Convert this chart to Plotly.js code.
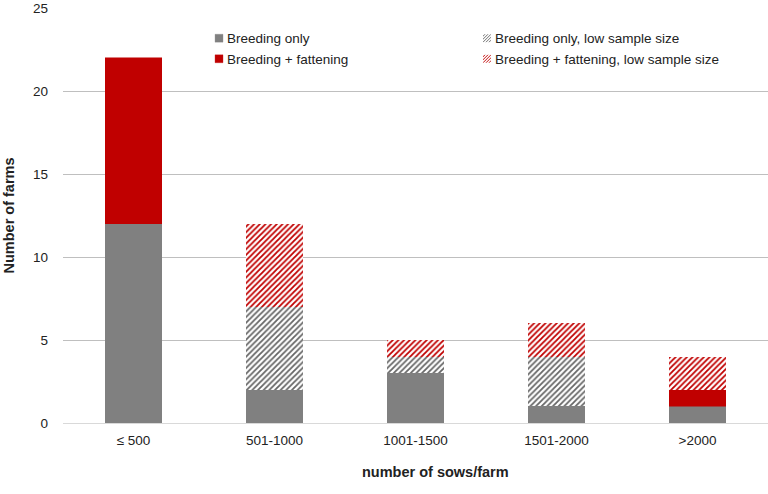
<!DOCTYPE html>
<html>
<head>
<meta charset="utf-8">
<script src="https://cdn.plot.ly/plotly-3.0.1.min.js"></script>
<style>
  html, body { margin: 0; padding: 0; background: #fff; }
  #chart { width: 768px; height: 494px; }
</style>
</head>
<body>
<div id="chart"></div>
<script>
let categories = ['≤ 500', '501-1000', '1001-1500', '1501-2000', '>2000'];

let breedingOnly = [12, 2, 3, 1, 1];
let breedingOnlyLow = [0, 5, 1, 3, 0];
let breedingFattening = [10, 0, 0, 0, 1];
let breedingFatteningLow = [0, 5, 1, 2, 2];

let yTicks = [0, 5, 10, 15, 20, 25];

let grey = '#808080';
let red = '#C00000';

function solidBar(name, values, color, legendId) {
    return {
        x: categories,
        y: values,
        name: name,
        type: 'bar',
        legend: legendId,
        legendgroup: name,
        marker: {
            color: color,
            line: { color: color, width: 0.5 }
        },
        hoverinfo: 'y+name'
    };
}

function hatchedBar(name, values, color, lineColor, legendId) {
    return {
        x: categories,
        y: values,
        name: name,
        type: 'bar',
        legend: legendId,
        legendgroup: name,
        marker: {
            color: color,
            line: { width: 0 },
            pattern: {
                shape: '/',
                fillmode: 'replace',
                fgcolor: lineColor,
                bgcolor: '#ffffff',
                size: 4,
                solidity: 0.45
            }
        },
        hoverinfo: 'y+name'
    };
}

let data = [
    solidBar('Breeding only', breedingOnly, grey, 'legend'),
    hatchedBar('Breeding only, low sample size', breedingOnlyLow, grey, '#666666', 'legend2'),
    solidBar('Breeding + fattening', breedingFattening, red, 'legend'),
    hatchedBar('Breeding + fattening, low sample size', breedingFatteningLow, red, red, 'legend2')
];

let legendBase = {
    orientation: 'v',
    y: 0.964,
    xanchor: 'left',
    yanchor: 'top',
    traceorder: 'normal',
    tracegroupgap: 5,
    bgcolor: 'rgba(0,0,0,0)',
    font: { size: 13.5, color: '#222222' }
};

let layout = {
    width: 768,
    height: 494,
    barmode: 'stack',
    bargap: 0.6,
    paper_bgcolor: '#ffffff',
    plot_bgcolor: '#ffffff',
    font: {
        family: 'Liberation Sans, Arial, sans-serif',
        size: 13,
        color: '#222222'
    },
    margin: { l: 63, r: 0, t: 8, b: 71 },
    showlegend: true,
    legend: Object.assign({}, legendBase, { x: 0.1759 }),
    legend2: Object.assign({}, legendBase, { x: 0.556 }),
    xaxis: {
        type: 'category',
        showgrid: false,
        showline: true,
        linecolor: '#D9D9D9',
        linewidth: 1,
        ticks: '',
        ticklabelstandoff: 5,
        tickfont: { size: 13.5 }
    },
    yaxis: {
        range: [0, 25],
        tickvals: yTicks,
        showgrid: true,
        gridcolor: '#BFBFBF',
        gridwidth: 1,
        zeroline: false,
        showline: false,
        ticks: '',
        ticklabelstandoff: 14,
        tickfont: { size: 13.5 },
        title: {
            text: '<b>Number of farms</b>',
            font: { size: 14.5 },
            standoff: 14
        }
    },
    annotations: [{
        // x axis title sits right of the plot centre in the reference
        text: '<b>number of sows/farm</b>',
        xref: 'paper',
        yref: 'paper',
        x: 0.529,
        y: -0.118,
        xanchor: 'center',
        yanchor: 'middle',
        showarrow: false,
        font: { size: 14.5 }
    }]
};

Plotly.newPlot('chart', data, layout, { displayModeBar: false, staticPlot: true }).then(function (gd) {
    // the reference uses small legend keys sitting close to the text
    gd.querySelectorAll('.legendpoints path').forEach(function (p) {
        p.setAttribute('transform', 'translate(32,0) scale(0.66)');
    });
});
</script>
</body>
</html>
